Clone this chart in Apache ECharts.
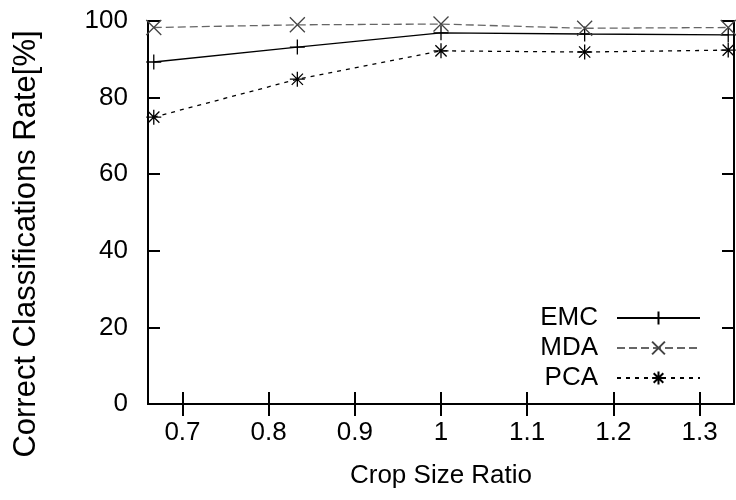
<!DOCTYPE html>
<html>
<head>
<meta charset="utf-8">
<script src="https://cdn.jsdelivr.net/npm/echarts@6/dist/echarts.min.js"></script>
<style>html,body{margin:0;padding:0;background:#fff}#c{width:736px;height:500px}</style>
</head>
<body>
<div id="c"></div>
<script>
var cropRatios = [0.6667, 0.8333, 1.0, 1.1667, 1.3333];
var emcValues = [89.3, 93.2, 96.9, 96.6, 96.4];
var mdaValues = [98.3, 99.0, 99.2, 98.1, 98.3];
var pcaValues = [74.9, 84.8, 92.2, 91.9, 92.4];
var xTicks = [0.7, 0.8, 0.9, 1.0, 1.1, 1.2, 1.3];
var yTicks = [0, 20, 40, 60, 80, 100];
var xTitle = 'Crop Size Ratio';
var yTitle = 'Correct Classifications Rate[%]';

var FONT = 'Liberation Sans';
var plusPath = 'path://M0,6L12,6M6,0L6,12';
var crossPath = 'path://M0,0L12,12M12,0L0,12';
var starPath = 'path://M0,6L12,6M6,0L6,12M1.5,1.5L10.5,10.5M10.5,1.5L1.5,10.5';

function pts(vals){ return cropRatios.map(function(x,i){ return [x, vals[i]]; }); }

function mkSeries(name, vals, sym, color, lineType, mcolor){
  return {
    name: name, type: 'line', data: pts(vals),
    symbol: sym, symbolSize: 15,
    showAllSymbol: true,
    itemStyle: { color: mcolor, borderColor: mcolor, borderWidth: 1.3 },
    lineStyle: { color: color, width: 1.3, type: lineType },
    emphasis: { disabled: true },
    animation: false, z: 3
  };
}

var axLine = { show: true, lineStyle: { color: '#000', width: 2 } };
var tickStyle = { color: '#000', width: 2 };
var chart = echarts.init(document.getElementById('c'));
chart.setOption({
  animation: false,
  grid: { left: 148, right: 2, top: 21, bottom: 96, containLabel: false },
  xAxis: [{
    type: 'value', min: 0.66, max: 1.34, position: 'bottom',
    axisLine: axLine,
    axisTick: { show: true, inside: true, length: 12, lineStyle: tickStyle, customValues: xTicks },
    axisLabel: { fontFamily: FONT, fontSize: 26, color: '#000', margin: 16, customValues: xTicks,
      formatter: function(v){ return String(Math.round(v*10)/10); } },
    splitLine: { show: false },
    name: xTitle, nameLocation: 'middle', nameGap: 59,
    nameTextStyle: { fontFamily: FONT, fontSize: 26, color: '#000' }
  }, {
    type: 'value', min: 0.66, max: 1.34, position: 'top',
    axisLine: axLine,
    axisTick: { show: true, inside: true, length: 12, lineStyle: tickStyle, customValues: xTicks },
    axisLabel: { show: false }, splitLine: { show: false }
  }],
  yAxis: [{
    type: 'value', min: 0, max: 100, interval: 20, position: 'left',
    axisLine: axLine,
    axisTick: { show: true, inside: true, length: 12, lineStyle: tickStyle, customValues: yTicks },
    axisLabel: { fontFamily: FONT, fontSize: 26, color: '#000', margin: 20, customValues: yTicks },
    splitLine: { show: false }
  }, {
    type: 'value', min: 0, max: 100, interval: 20, position: 'right',
    axisLine: axLine,
    axisTick: { show: true, inside: true, length: 12, lineStyle: tickStyle, customValues: yTicks },
    axisLabel: { show: false }, splitLine: { show: false }
  }],
  graphic: [{
    type: 'text', x: 26, y: 244, rotation: Math.PI / 2,
    style: { text: yTitle, fontFamily: FONT, fontSize: 31, fill: '#000',
      align: 'center', verticalAlign: 'middle' }
  }],
  legend: {
    orient: 'vertical', right: 30, top: 300, align: 'right',
    itemWidth: 83, itemHeight: 16, itemGap: 4,
    textStyle: { fontFamily: FONT, fontSize: 26, color: '#000', padding: [0, 14, 0, 0] },
    data: ['EMC', 'MDA', 'PCA']
  },
  series: [
    mkSeries('EMC', emcValues, plusPath, '#000', 'solid', '#000'),
    mkSeries('MDA', mdaValues, crossPath, '#666', [8, 4], '#444'),
    mkSeries('PCA', pcaValues, starPath, '#000', [4, 5], '#000')
  ]
});
</script>
</body>
</html>
